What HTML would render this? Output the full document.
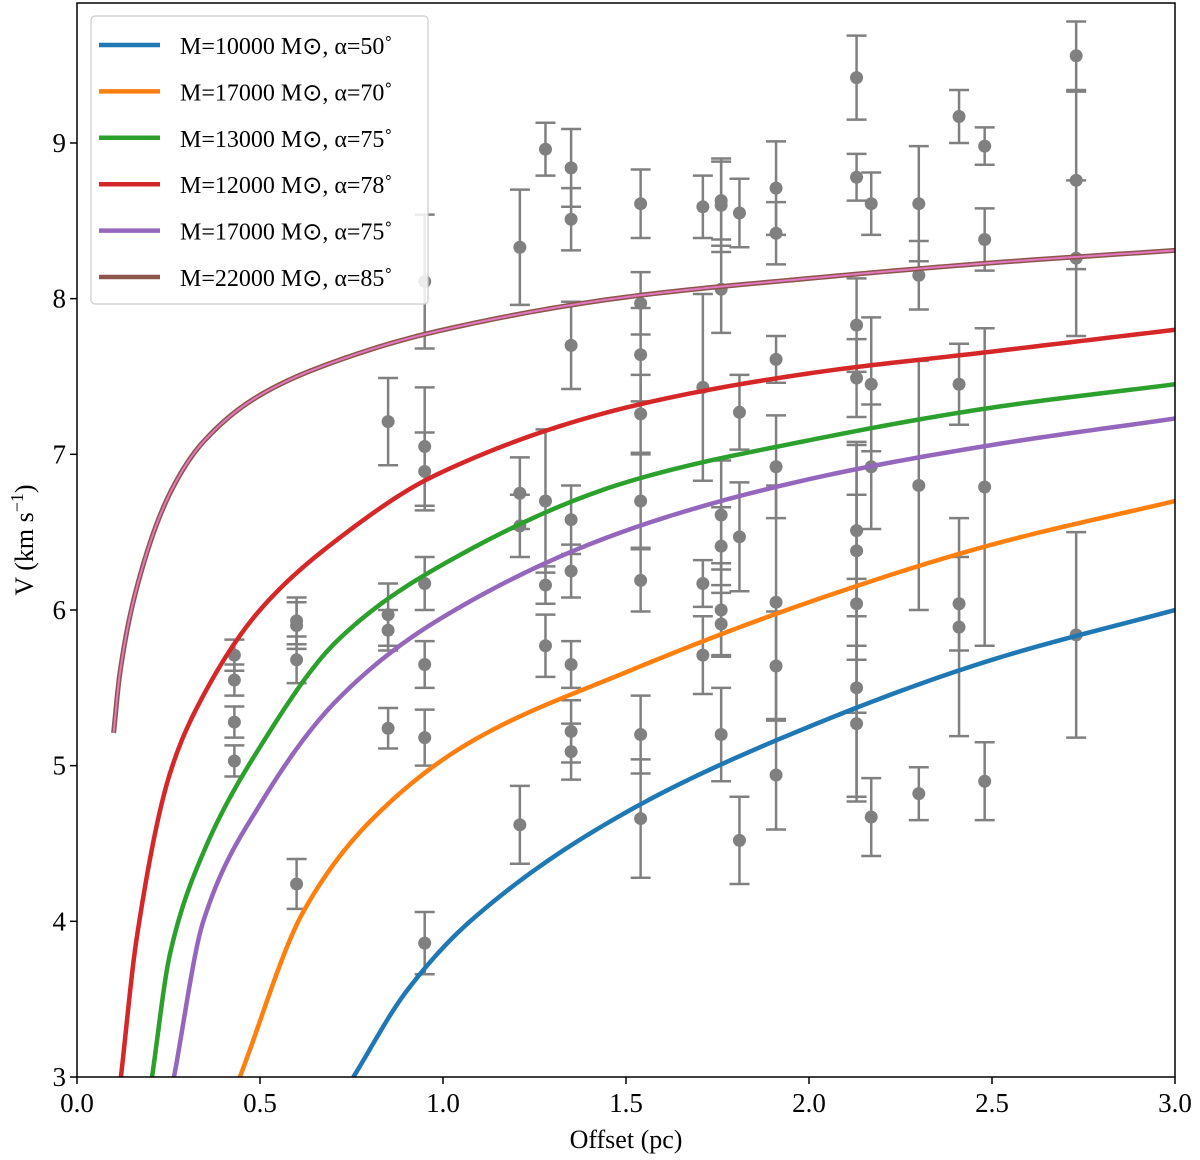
<!DOCTYPE html>
<html><head><meta charset="utf-8"><style>
body{margin:0;background:#fff}
svg{display:block;font-family:"Liberation Serif",serif}
</style></head><body>
<svg id="chart" width="1200" height="1160">
<g id="plot"></g>
</svg>
<script>
const xTicks=[0,0.5,1.0,1.5,2.0,2.5,3.0];
const xTickLabels=["0.0","0.5","1.0","1.5","2.0","2.5","3.0"];
const yTicks=[3,4,5,6,7,8,9];
const yTickLabels=["3","4","5","6","7","8","9"];
const seriesNames=["M=10000 M⊙, α=50˚","M=17000 M⊙, α=70˚","M=13000 M⊙, α=75˚","M=12000 M⊙, α=78˚","M=17000 M⊙, α=75˚","M=22000 M⊙, α=85˚"];
const seriesColors=["#1f77b4","#ff7f0e","#2ca02c","#d62728","#9467bd","#8c564b"];
const blueX=[0.755,0.9,1.074,1.5,2.0,2.5,3.0];
const blueY=[3.0,3.55,4.0,4.7,5.25,5.68,6.0];
const orangeX=[0.445,0.618,0.8,1.074,1.5,2.0,2.5,3.0];
const orangeY=[3.0,4.06,4.64,5.15,5.6,6.05,6.42,6.7];
const greenX=[0.205,0.254,0.345,0.5,0.71,0.983,1.5,2.0,2.5,3.0];
const greenY=[3.0,3.79,4.44,5.12,5.8,6.27,6.82,7.09,7.3,7.45];
const redX=[0.12,0.163,0.254,0.345,0.5,0.71,0.983,1.5,2.0,2.5,3.0];
const redY=[3.0,3.89,4.95,5.45,6.0,6.45,6.87,7.3,7.52,7.66,7.8];
const purpleX=[0.265,0.345,0.5,0.71,0.983,1.5,2.0,2.5,3.0];
const purpleY=[3.0,4.0,4.75,5.42,5.93,6.51,6.84,7.06,7.23];
const pinkX=[0.1,0.117,0.163,0.254,0.345,0.5,0.71,0.983,1.5,2.0,2.5,3.0];
const pinkY=[5.21,5.59,6.14,6.75,7.08,7.38,7.6,7.79,8.01,8.13,8.23,8.31];
const ptX=[0.43,0.43,0.43,0.43,0.60,0.60,0.60,0.60,0.85,0.85,0.85,0.85,
0.95,0.95,0.95,0.95,0.95,0.95,0.95,1.21,1.21,1.21,1.21,1.28,1.28,1.28,1.28,
1.35,1.35,1.35,1.35,1.35,1.35,1.35,1.35,1.54,1.54,1.54,1.54,1.54,1.54,1.54,1.54,
1.71,1.71,1.71,1.71,1.76,1.76,1.76,1.76,1.76,1.76,1.76,1.76,1.81,1.81,1.81,1.81,
1.91,1.91,1.91,1.91,1.91,1.91,1.91,2.13,2.13,2.13,2.13,2.13,2.13,2.13,2.13,2.13,
2.17,2.17,2.17,2.17,2.30,2.30,2.30,2.30,2.41,2.41,2.41,2.41,2.48,2.48,2.48,2.48,
2.73,2.73,2.73,2.73];
const ptY=[5.71,5.55,5.28,5.03,5.93,5.90,5.68,4.24,5.97,5.87,5.24,7.21,
8.11,7.05,6.89,6.17,5.65,5.18,3.86,8.33,6.75,6.54,4.62,8.96,6.70,6.16,5.77,
8.84,8.51,7.70,6.58,6.25,5.65,5.22,5.09,8.61,7.97,7.64,7.26,6.70,6.19,5.20,4.66,
8.59,7.43,6.17,5.71,8.63,8.60,8.06,6.61,6.41,6.00,5.91,5.20,8.55,7.27,6.47,4.52,
8.71,8.42,7.61,6.92,6.05,5.64,4.94,9.42,8.78,7.83,7.49,6.51,6.38,6.04,5.50,5.27,
8.61,7.45,6.92,4.67,8.61,8.15,6.80,4.82,9.17,7.45,6.04,5.89,8.98,8.38,6.79,4.90,
9.56,8.76,8.26,5.84];
const ptErr=[0.1,0.1,0.1,0.1,0.15,0.15,0.15,0.16,0.2,0.13,0.13,0.28,
0.43,0.38,0.25,0.17,0.15,0.18,0.2,0.37,0.23,0.2,0.25,0.17,0.46,0.12,0.2,
0.25,0.2,0.28,0.22,0.17,0.15,0.2,0.18,0.22,0.2,0.3,0.25,0.3,0.2,0.25,0.38,
0.2,0.6,0.15,0.25,0.25,0.3,0.28,0.35,0.25,0.3,0.2,0.3,0.22,0.24,0.35,0.28,
0.3,0.2,0.15,0.33,0.75,0.35,0.35,0.27,0.15,0.3,0.25,0.55,0.7,0.7,0.7,0.5,
0.2,0.43,0.4,0.25,0.37,0.22,0.8,0.17,0.17,0.26,0.3,0.7,0.12,0.2,1.02,0.25,
0.22,0.57,0.5,0.66];

const L=77,R=1175,T=3,B=1077;
const sx=v=>L+(v-0)/(3-0)*(R-L);
const sy=v=>1077-(v-3)*155.67;
const NS="http://www.w3.org/2000/svg";
const svg=document.getElementById('chart');
const g=document.getElementById('plot');
function mk(t,a,p){const e=document.createElementNS(NS,t);for(const k in a)e.setAttribute(k,a[k]);(p||g).appendChild(e);return e;}
const clip=mk('clipPath',{id:'cp'},svg);mk('rect',{x:L,y:T,width:R-L,height:B-T},clip);
const pg=mk('g',{});
for(let i=0;i<ptX.length;i++){
 const x=sx(ptX[i]),y1=sy(ptY[i]+ptErr[i]),y2=sy(ptY[i]-ptErr[i]);
 const eb=mk('path',{d:`M${x},${y1}V${y2}M${x-10},${y1}H${x+10}M${x-10},${y2}H${x+10}`,stroke:'#808080','stroke-width':2.5,fill:'none'},pg);
 
 
 const c=mk('circle',{cx:x,cy:sy(ptY[i]),r:6.5,fill:'#808080'},pg);
 
 
}
const curves=[[blueX,blueY],[orangeX,orangeY],[greenX,greenY],[redX,redY],[purpleX,purpleY],[pinkX,pinkY]];
const cg=mk('g',{'clip-path':'url(#cp)'});
// monotone cubic (Fritsch-Carlson) in data space, densely sampled
function smooth(xs,ys){
 const n=xs.length,h=[],d=[],m=[];
 for(let i=0;i<n-1;i++){h[i]=xs[i+1]-xs[i];d[i]=(ys[i+1]-ys[i])/h[i];}
 m[0]=d[0];m[n-1]=d[n-2];
 for(let i=1;i<n-1;i++){
  if(d[i-1]*d[i]<=0)m[i]=0;
  else{const w1=2*h[i]+h[i-1],w2=h[i]+2*h[i-1];m[i]=(w1+w2)/(w1/d[i-1]+w2/d[i]);}
 }
 let path='';
 for(let i=0;i<n-1;i++){
  for(let k=0;k<=20;k++){
   const t=k/20,t2=t*t,t3=t2*t;
   const y=(2*t3-3*t2+1)*ys[i]+(t3-2*t2+t)*h[i]*m[i]+(-2*t3+3*t2)*ys[i+1]+(t3-t2)*h[i]*m[i+1];
   const x=xs[i]+t*h[i];
   path+=(path?'L':'M')+sx(x).toFixed(2)+','+sy(y).toFixed(2);
  }
 }
 return path;
}
curves.forEach((c,i)=>{
 if(i===5){
  const b=mk('path',{d:smooth(c[0],c[1]),stroke:'#8c564b','stroke-width':5,fill:'none','stroke-linejoin':'round'},cg);
  
  
  const p=mk('path',{d:smooth(c[0],c[1]),stroke:'#e377c2','stroke-width':2,fill:'none'},cg);
  
  
 } else {
  const p=mk('path',{d:smooth(c[0],c[1]),stroke:seriesColors[i],'stroke-width':4.5,fill:'none','stroke-linejoin':'round'},cg);
  
  
 }
});
const ax=mk('rect',{x:L,y:T,width:R-L,height:B-T,fill:'none',stroke:'#000','stroke-width':1.5});


xTicks.forEach((v,i)=>{
 const x=sx(v);
 mk('line',{x1:x,x2:x,y1:B,y2:B+7,stroke:'#000','stroke-width':1.5});
 const t=mk('text',{x:x,y:B+35,'font-size':27,'text-anchor':'middle'});t.textContent=xTickLabels[i];
 
 
});
yTicks.forEach((v,i)=>{
 const y=sy(v);
 mk('line',{x1:L,x2:L-7,y1:y,y2:y,stroke:'#000','stroke-width':1.5});
 const t=mk('text',{x:L-11,y:y+9,'font-size':27,'text-anchor':'end'});t.textContent=yTickLabels[i];
 
 
});
const lg=mk('g',{});


mk('rect',{x:91,y:16,width:337,height:288,rx:4,fill:'#fff','fill-opacity':0.85,stroke:'#ccc','stroke-width':1.2},lg);
seriesNames.forEach((n,i)=>{
 const y=45+i*46.4;
 mk('line',{x1:99,x2:160,y1:y,y2:y,stroke:seriesColors[i],'stroke-width':4.5},lg);
 const t=mk('text',{x:180,y:y+9,'font-size':24},lg);t.textContent=n;
 
 
});
</script>
<svg style="position:absolute;left:0;top:0" width="1200" height="1160">
<text x="626" y="1148" font-size="26" text-anchor="middle" font-family="Liberation Serif,serif">Offset (pc)</text>
<text transform="translate(33,540) rotate(-90)" font-size="26" text-anchor="middle" font-family="Liberation Serif,serif">V (km s<tspan dy="-10" font-size="18">−1</tspan><tspan dy="10">)</tspan></text>
</svg>
</body></html>
